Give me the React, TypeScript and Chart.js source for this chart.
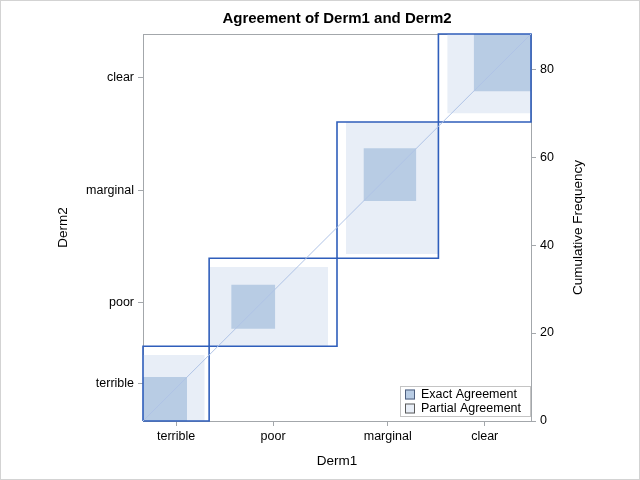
import React, { useEffect, useRef } from 'react';
import { Chart, registerables } from 'chart.js';

Chart.register(...registerables);

// Categories (same for Derm1 on x and Derm2 on y)
const categories = ['terrible', 'poor', 'marginal', 'clear'];
// Counts for each Derm1 level, listed by Derm2 level (terrible, poor, marginal, clear)
const derm1Terrible = [10, 4, 1, 0];
const derm1Poor = [5, 10, 12, 2];
const derm1Marginal = [2, 4, 12, 5];
const derm1Clear = [0, 2, 6, 13];
const freqTicks = [0, 20, 40, 60, 80];

const counts = [derm1Terrible, derm1Poor, derm1Marginal, derm1Clear];

const FONT = "'Liberation Sans', Arial, Helvetica, sans-serif";
const LIGHT = '#E8EEF7';
const DARK = '#B8CCE4';
const BLUE = '#2F5EBB';
const DIAG = '#AFC3E6';
const AXIS = '#A3A7AB';

const sum = (a: number[]) => a.reduce((s, v) => s + v, 0);

export default function App() {
  const ref = useRef<HTMLCanvasElement>(null);

  useEffect(() => {
    if (!ref.current) return;
    const k = categories.length;
    const colTot = counts.map(sum);
    const rowTot = categories.map((_, j) => sum(counts.map((c) => c[j])));
    const C = [0];
    colTot.forEach((v) => C.push(C[C.length - 1] + v));
    const R = [0];
    rowTot.forEach((v) => R.push(R[R.length - 1] + v));
    const N = C[k];
    const xCenters = categories.map((_, i) => (C[i] + C[i + 1]) / 2);
    const yCenters = categories.map((_, i) => (R[i] + R[i + 1]) / 2);

    const rectFill = (x0: number, y0: number, x1: number, y1: number, color: string, order: number) => ({
      data: [
        { x: x0, y: y1 },
        { x: x1, y: y1 },
      ],
      fill: { value: y0 },
      backgroundColor: color,
      borderColor: 'rgba(0,0,0,0)',
      borderWidth: 0,
      showLine: true,
      pointRadius: 0,
      order,
      xAxisID: 'x',
      yAxisID: 'y',
    });

    const datasets: any[] = [];
    for (let i = 0; i < k; i++) {
      let px0 = C[i], py0 = R[i], pw = 0, ph = 0;
      for (let j = 0; j < k; j++) {
        if (j < i - 1) {
          px0 += counts[i][j];
          py0 += counts[j][i];
        } else if (j <= i + 1) {
          pw += counts[i][j];
          ph += counts[j][i];
        }
      }
      datasets.push(rectFill(px0, py0, px0 + pw, py0 + ph, LIGHT, 4));

      let ex0 = C[i], ey0 = R[i];
      for (let j = 0; j < i; j++) {
        ex0 += counts[i][j];
        ey0 += counts[j][i];
      }
      const d = counts[i][i];
      datasets.push(rectFill(ex0, ey0, ex0 + d, ey0 + d, DARK, 3));

      datasets.push({
        data: [
          { x: C[i], y: R[i] },
          { x: C[i + 1], y: R[i] },
          { x: C[i + 1], y: R[i + 1] },
          { x: C[i], y: R[i + 1] },
          { x: C[i], y: R[i] },
        ],
        fill: false,
        borderColor: BLUE,
        borderWidth: 1.6,
        showLine: true,
        pointRadius: 0,
        order: 2,
        clip: 3,
        xAxisID: 'x',
        yAxisID: 'y',
      });
    }
    datasets.push({
      data: [
        { x: 0, y: 0 },
        { x: N, y: N },
      ],
      fill: false,
      borderColor: DIAG,
      borderWidth: 1,
      showLine: true,
      pointRadius: 0,
      order: 1,
      xAxisID: 'x',
      yAxisID: 'y',
    });

    const decor = {
      id: 'decor',
      beforeDraw(chart: any) {
        const ctx = chart.ctx;
        ctx.save();
        ctx.fillStyle = '#fff';
        ctx.fillRect(0, 0, chart.width, chart.height);
        ctx.restore();
      },
      beforeDatasetsDraw(chart: any) {
        const { ctx, chartArea: a } = chart;
        ctx.save();
        ctx.strokeStyle = AXIS;
        ctx.lineWidth = 1;
        ctx.beginPath();
        ctx.moveTo(a.left, Math.round(a.top) + 0.5);
        ctx.lineTo(a.right, Math.round(a.top) + 0.5);
        ctx.stroke();
        ctx.restore();
      },
      afterDraw(chart: any) {
        const { ctx, chartArea: a } = chart;
        ctx.save();
        // outer frame
        ctx.strokeStyle = '#D3D3D3';
        ctx.lineWidth = 1;
        ctx.strokeRect(0.5, 0.5, chart.width - 1, chart.height - 1);
        // right axis title
        ctx.fillStyle = '#000';
        ctx.font = `13.5px ${FONT}`;
        ctx.textAlign = 'center';
        ctx.textBaseline = 'middle';
        ctx.translate(578, (a.top + a.bottom) / 2);
        ctx.rotate(-Math.PI / 2);
        ctx.fillText('Cumulative Frequency', 0, 0);
        ctx.restore();

        // legend
        ctx.save();
        const bw = 131, bh = 31;
        const bx = Math.round(a.right) - bw;
        const by = Math.round(a.bottom) - 4 - bh;
        ctx.fillStyle = '#fff';
        ctx.fillRect(bx, by, bw, bh);
        ctx.strokeStyle = '#C4C4C4';
        ctx.lineWidth = 1;
        ctx.strokeRect(bx + 0.5, by + 0.5, bw - 1, bh - 1);
        const items = [
          { label: 'Exact Agreement', fill: DARK, border: '#4E5F7E' },
          { label: 'Partial Agreement', fill: LIGHT, border: '#5A5A5A' },
        ];
        ctx.font = `12.5px ${FONT}`;
        ctx.textAlign = 'left';
        ctx.textBaseline = 'middle';
        items.forEach((it, i) => {
          const cy = by + 8.5 + i * 14;
          ctx.fillStyle = it.fill;
          ctx.fillRect(bx + 5, cy - 5, 10, 10);
          ctx.strokeStyle = it.border;
          ctx.strokeRect(bx + 5.5, cy - 4.5, 9, 9);
          ctx.fillStyle = '#000';
          ctx.fillText(it.label, bx + 21, cy + 0.5);
        });
        ctx.restore();
      },
    };

    const tickFont = { family: FONT, size: 12.5 };
    const chart = new Chart(ref.current, {
      type: 'scatter',
      data: { datasets },
      options: {
        animation: false,
        responsive: false,
        devicePixelRatio: 1,
        layout: { padding: 0 },
        plugins: {
          legend: { display: false },
          tooltip: { enabled: false },
          title: {
            display: true,
            text: 'Agreement of Derm1 and Derm2',
            color: '#000',
            font: { family: FONT, size: 15, weight: 'bold' },
            padding: { top: 10, bottom: 6 },
            fullSize: false,
          },
        },
        scales: {
          x: {
            type: 'linear',
            position: 'bottom',
            min: 0,
            max: N,
            afterBuildTicks: (s: any) => {
              s.ticks = xCenters.map((v) => ({ value: v }));
            },
            ticks: {
              autoSkip: false,
              maxRotation: 0,
              padding: 3,
              color: '#000',
              font: tickFont,
              callback: (_v: any, i: number) => categories[i],
            },
            grid: { drawOnChartArea: false, drawTicks: true, tickLength: 5, color: AXIS },
            border: { display: true, color: AXIS, width: 1 },
            title: {
              display: true,
              text: 'Derm1',
              color: '#000',
              font: { family: FONT, size: 13.5 },
              padding: { top: 0, bottom: 11 },
            },
            afterFit: (s: any) => {
              s.height = 59;
            },
          },
          y: {
            type: 'linear',
            position: 'left',
            min: 0,
            max: N,
            afterBuildTicks: (s: any) => {
              s.ticks = yCenters.map((v) => ({ value: v }));
            },
            ticks: {
              autoSkip: false,
              padding: 4,
              color: '#000',
              font: tickFont,
              callback: (_v: any, i: number) => categories[i],
            },
            grid: { drawOnChartArea: false, drawTicks: true, tickLength: 5, color: AXIS },
            border: { display: true, color: AXIS, width: 1 },
            title: {
              display: true,
              text: 'Derm2',
              color: '#000',
              font: { family: FONT, size: 13.5 },
              padding: { top: 55, bottom: 0 },
            },
            afterFit: (s: any) => {
              s.width = 143;
            },
          },
          y2: {
            type: 'linear',
            position: 'right',
            min: 0,
            max: N,
            afterBuildTicks: (s: any) => {
              s.ticks = freqTicks.map((v) => ({ value: v }));
            },
            ticks: {
              autoSkip: false,
              padding: 4,
              color: '#000',
              font: tickFont,
              callback: (v: any) => String(v),
            },
            grid: { drawOnChartArea: false, drawTicks: true, tickLength: 5, color: AXIS },
            border: { display: true, color: AXIS, width: 1 },
            afterFit: (s: any) => {
              s.width = 109;
            },
          },
        },
      } as any,
      plugins: [decor],
    });
    return () => chart.destroy();
  }, []);

  return (
    <div style={{ position: 'absolute', left: 0, top: 0, width: 640, height: 480 }}>
      <canvas ref={ref} width={640} height={480} style={{ display: 'block' }} />
    </div>
  );
}
